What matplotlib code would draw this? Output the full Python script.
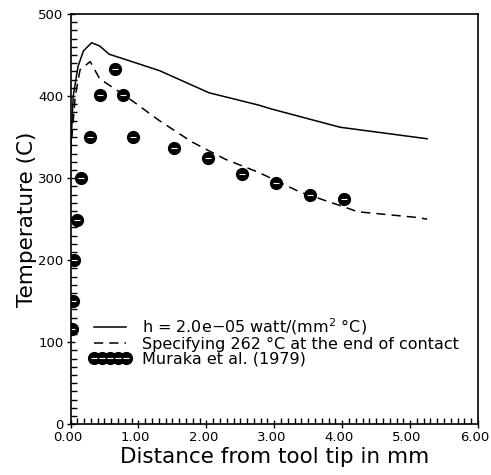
import matplotlib
matplotlib.use('Agg')
import matplotlib.pyplot as plt
import matplotlib.transforms as mtransforms
from matplotlib.legend_handler import HandlerTuple
from matplotlib.ticker import MultipleLocator, FormatStrFormatter

# h = 2.0e-05 model
solid_x = [0.0, 0.04, 0.11, 0.19, 0.31, 0.43, 0.57, 1.31, 2.04, 2.77, 2.97, 3.97, 5.25]
solid_y = [330, 400, 436, 455, 465, 461, 451, 431, 404, 389, 384, 362, 348]

# specified temperature at end of contact
dash_x = [0.0, 0.07, 0.14, 0.29, 0.43, 0.83, 1.31, 1.79, 2.28, 2.77, 3.38, 3.99, 4.23, 5.11, 5.25]
dash_y = [330, 400, 432, 442, 421, 399, 370, 344, 323, 307, 283, 266, 259, 252, 250]

# Muraka et al. (1979)
exp_x = [0.02, 0.03, 0.05, 0.09, 0.16, 0.28, 0.43, 0.66, 0.77, 0.92, 1.52, 2.02, 2.52, 3.02, 3.52, 4.02]
exp_y = [116, 150, 200, 249, 300, 350, 401, 433, 401, 350, 337, 325, 305, 294, 280, 275]

fig = plt.figure(figsize=(4.91, 4.75), dpi=100)
ax = fig.add_axes([0.1436, 0.1067, 0.830, 0.8638])

l1, = ax.plot(solid_x, solid_y, color='black', lw=1.1)
l2, = ax.plot(dash_x, dash_y, color='black', lw=1.1, dashes=(6, 4))
m1, = ax.plot(exp_x, exp_y, 'o', color='black', ms=8.5, ls='none')
m2, = ax.plot(exp_x, exp_y, '_', color='white', ms=5, mew=0.8, ls='none')

ax.set_xlim(0, 6)
ax.set_ylim(0, 500)
ax.xaxis.set_major_locator(MultipleLocator(1))
ax.xaxis.set_minor_locator(MultipleLocator(0.1))
ax.yaxis.set_major_locator(MultipleLocator(100))
ax.yaxis.set_minor_locator(MultipleLocator(10))
ax.xaxis.set_major_formatter(FormatStrFormatter('%.2f'))
ax.tick_params(which='major', direction='inout', length=6, width=1, labelsize=9.5,
               top=False, right=False)
ax.tick_params(axis='x', which='major', pad=2)
ax.tick_params(axis='y', which='major', pad=2)
ax.tick_params(which='minor', direction='in', length=4, width=1, top=False, right=False)
for s in ax.spines.values():
    s.set_linewidth(1.2)

# labels sit a little left of their ticks
shift = mtransforms.ScaledTranslation(-3 / 100, 0, fig.dpi_scale_trans)
for lab in ax.get_xticklabels():
    lab.set_transform(lab.get_transform() + shift)

ax.set_xlabel('Distance from tool tip in mm', fontsize=15.5, labelpad=2)
ax.set_ylabel('Temperature (C)', fontsize=15.5, labelpad=1)

leg = ax.legend([l1, l2, (m1, m2)],
                ['h = 2.0e\u221205 watt/(mm$^2$ \u00b0C)',
                 'Specifying 262 \u00b0C at the end of contact',
                 'Muraka et al. (1979)'],
                handler_map={tuple: HandlerTuple(ndivide=1, pad=0)},
                numpoints=5, loc='upper left', bbox_to_anchor=(0.045, 0.264),
                frameon=False, fontsize=11.5, handlelength=2.6, handletextpad=0.75,
                labelspacing=0.0, borderpad=0, borderaxespad=0)

fig.savefig('out.png', dpi=100)
